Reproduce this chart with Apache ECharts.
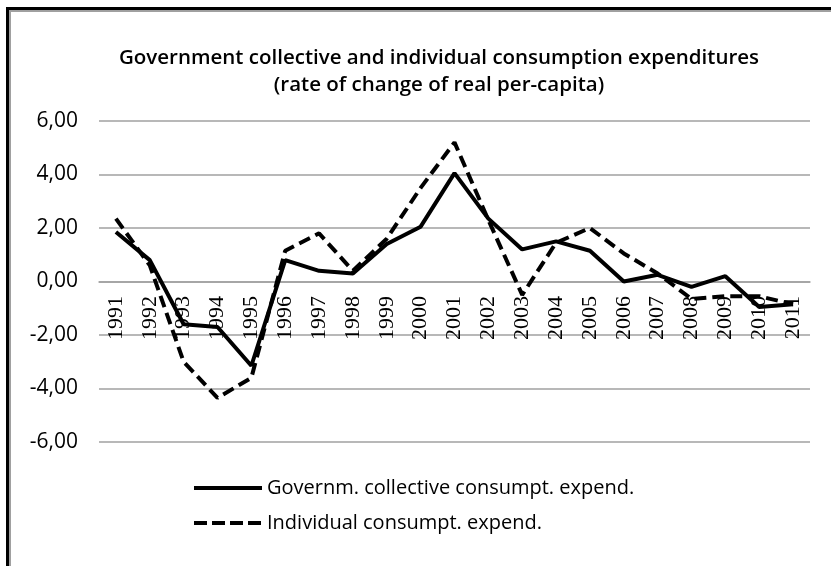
<!DOCTYPE html>
<html>
<head>
<meta charset="utf-8">
<script src="https://cdn.jsdelivr.net/npm/echarts@6/dist/echarts.min.js"></script>
<style>
  html, body { margin: 0; padding: 0; background: #fff; }
  #chart { width: 831px; height: 566px; }
</style>
</head>
<body>
<div id="chart"></div>
<script>
// years on the category axis
var years = ['1991', '1992', '1993', '1994', '1995', '1996', '1997', '1998', '1999', '2000',
  '2001', '2002', '2003', '2004', '2005', '2006', '2007', '2008', '2009', '2010', '2011']

// rate of change of real per-capita (%)
var collective = [1.85, 0.8, -1.6, -1.7, -3.15, 0.8, 0.4, 0.3, 1.4, 2.05,
  4.05, 2.35, 1.2, 1.5, 1.15, 0.0, 0.25, -0.2, 0.2, -0.95, -0.85]
var individual = [2.35, 0.6, -3.0, -4.35, -3.6, 1.15, 1.8, 0.4, 1.6, 3.5,
  5.2, 2.3, -0.5, 1.45, 2.0, 1.05, 0.3, -0.65, -0.55, -0.55, -0.85]

var seriesNames = ['Governm. collective consumpt. expend.', 'Individual consumpt. expend.']

var chart = echarts.init(document.getElementById('chart'))

var sansFont = '"Open Sans", sans-serif'
var dash = [12, 6]

var option = {
  animation: false,
  backgroundColor: '#fff',
  title: {
    text: 'Government collective and individual consumption expenditures\n(rate of change of real per-capita)',
    left: 439,
    top: 45,
    padding: 0,
    textAlign: 'center',
    textStyle: {
      fontFamily: sansFont,
      fontSize: 20.5,
      fontWeight: 600,
      lineHeight: 27,
      color: '#000'
    }
  },
  legend: {
    orient: 'vertical',
    left: 192,
    top: 478,
    padding: 0,
    itemWidth: 68,
    itemHeight: 14,
    itemGap: 15,
    textStyle: {
      fontFamily: sansFont,
      fontSize: 20,
      color: '#000'
    },
    data: [
      { name: seriesNames[0], itemStyle: { opacity: 0 }, lineStyle: { color: '#000', width: 4, type: 'solid' } },
      { name: seriesNames[1], itemStyle: { opacity: 0 }, lineStyle: { color: '#000', width: 4, type: [13, 5] } }
    ]
  },
  grid: {
    left: 99,
    right: 21,
    top: 121,
    bottom: 124,
    containLabel: false
  },
  xAxis: {
    type: 'category',
    data: years,
    boundaryGap: true,
    // axis sits on the zero line (grid bottom is at -6)
    offset: -160,
    axisLine: { onZero: false, lineStyle: { color: '#a0a0a0', width: 1.5 } },
    axisTick: { show: false },
    axisLabel: {
      rotate: 90,
      margin: 14,
      interval: 0,
      fontFamily: '"Liberation Serif", serif',
      fontSize: 22,
      color: '#000'
    },
    splitLine: { show: false }
  },
  yAxis: {
    type: 'value',
    min: -6,
    max: 6,
    interval: 2,
    axisLine: { show: false },
    axisTick: { show: false },
    axisLabel: {
      margin: 21,
      fontFamily: sansFont,
      fontSize: 21,
      color: '#000',
      formatter: function (v) { return v.toFixed(2).replace('.', ',') }
    },
    splitLine: { lineStyle: { color: '#a0a0a0', width: 1.5 } }
  },
  graphic: [
    // double frame on the left and top edge
    { type: 'rect', shape: { x: 6, y: 7, width: 3, height: 566 }, style: { fill: '#000' }, silent: true },
    { type: 'rect', shape: { x: 6, y: 7, width: 825, height: 3 }, style: { fill: '#000' }, silent: true },
    { type: 'rect', shape: { x: 9, y: 10, width: 2, height: 566 }, style: { fill: '#a0a0a0' }, silent: true },
    { type: 'rect', shape: { x: 9, y: 10, width: 822, height: 2 }, style: { fill: '#a0a0a0' }, silent: true }
  ],
  series: [
    {
      name: seriesNames[1],
      type: 'line',
      data: individual,
      symbol: 'none',
      lineStyle: { color: '#000', width: 4, type: dash },
      itemStyle: { color: '#000' }
    },
    {
      name: seriesNames[0],
      type: 'line',
      data: collective,
      symbol: 'none',
      lineStyle: { color: '#000', width: 4 },
      itemStyle: { color: '#000' }
    }
  ]
}

chart.setOption(option)
</script>
</body>
</html>
